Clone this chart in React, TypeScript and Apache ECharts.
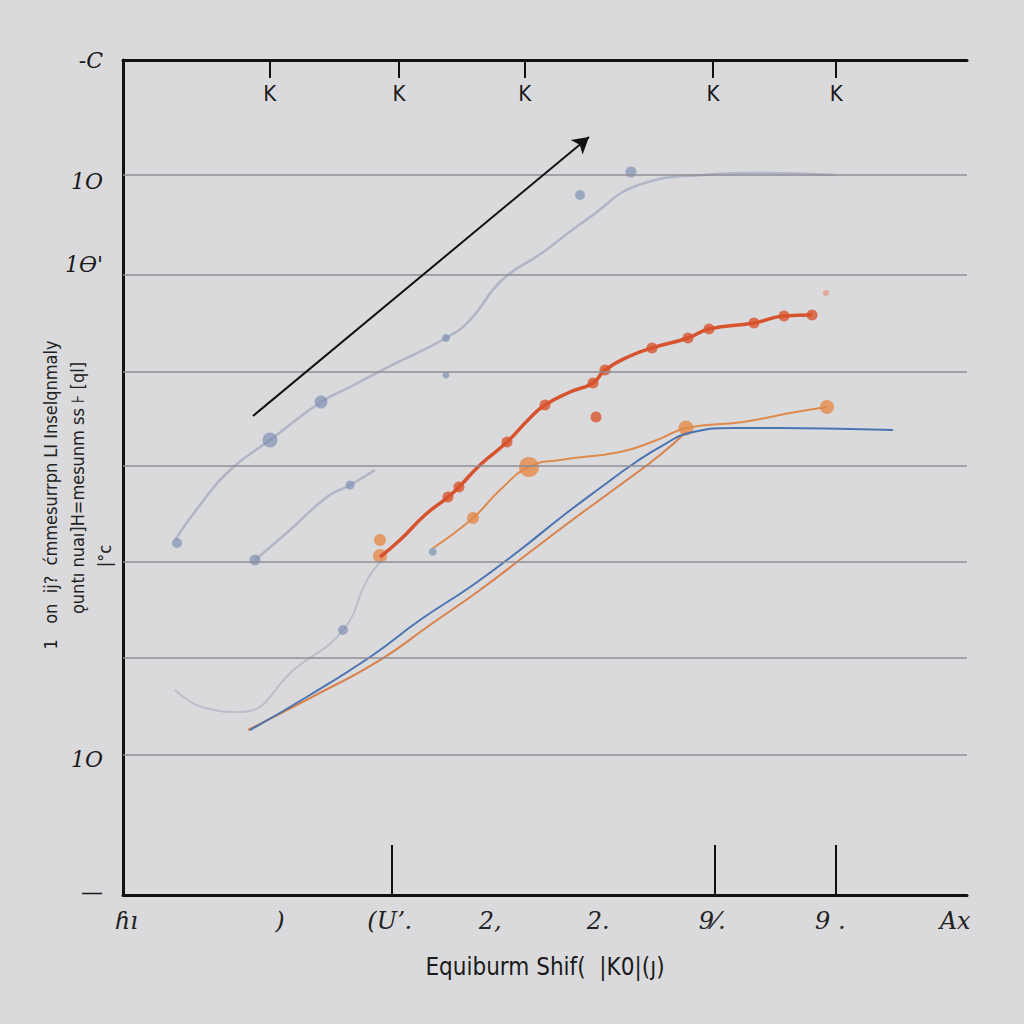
import React, { useEffect, useRef } from "react";
import * as echarts from "echarts";

// Horizontal reference lines (y values)
const gridLinesY = [86.23, 74.25, 62.63, 51.38, 39.88, 28.38, 16.77];

// Axis tick labels
const yLabelValues = [100, 85.5, 75.5, 16.2, 0.3];
const yLabelTexts = ["-C", "1O", "1Ɵ'", "1O", "—"];
const bottomLabelValues = [0.4, 18.6, 31.6, 43.5, 56.3, 69.8, 83.8, 98.6];
const bottomLabelTexts = ["ɦı", ")", "(Uʼ.", "2,", "2.", "9⁄.", "9 .", "Ax"];
const bottomTickValues = [31.9, 70.1, 84.5];
const topTickValues = [17.4, 32.7, 47.6, 69.9, 84.5];
const topLabelTexts = ["K", "K", "K", "K", "K"];

// Series data [x, y]
const redMain = [
  [30.45, 40.48], [32.82, 42.51], [35.78, 45.51], [38.51, 47.66], [39.81, 48.86],
  [42.3, 51.5], [45.5, 54.25], [48.22, 57.13], [50.0, 58.68], [52.96, 60.24],
  [55.69, 61.32], [57.11, 62.87], [60.07, 64.55], [62.68, 65.51], [66.94, 66.71],
  [69.43, 67.78], [74.76, 68.5], [78.32, 69.34], [81.64, 69.46],
];
const redMarkers = [
  [38.51, 47.66], [39.81, 48.86], [45.5, 54.25], [50.0, 58.68], [55.69, 61.32],
  [57.11, 62.87], [62.68, 65.51], [66.94, 66.71], [69.43, 67.78], [74.76, 68.5],
  [78.32, 69.34], [81.64, 69.46], [56.04, 57.25],
];
const redFaint = [[83.29, 72.1]];

const orangeMain = [
  [36.73, 41.56], [41.47, 45.15], [44.67, 48.5], [48.1, 51.26], [51.78, 52.1],
  [58.89, 53.05], [63.27, 54.49], [66.71, 55.93], [73.46, 56.65], [79.03, 57.72],
  [83.41, 58.44],
];
const orangeMarkers = [
  [41.47, 45.15], [48.1, 51.26], [66.71, 55.93], [83.41, 58.44], [30.45, 42.51], [30.45, 40.6],
];
const orangeMarkerSizes = [12, 20, 15, 14, 12, 14];

const blueLine = [
  [15.05, 19.76], [22.16, 23.95], [29.62, 28.74], [35.19, 32.93], [41.47, 37.13],
  [47.04, 41.32], [52.25, 45.51], [56.52, 48.74], [60.78, 51.86], [64.22, 54.01],
  [67.06, 55.33], [72.63, 55.93], [77.84, 55.93], [86.14, 55.81], [91.23, 55.69],
];
const orangeThin = [
  [14.81, 19.76], [22.16, 23.59], [30.45, 28.14], [36.37, 32.34], [42.3, 36.53],
  [48.22, 41.08], [53.55, 45.15], [58.89, 49.1], [63.63, 52.69], [66.71, 55.45],
];

const ghostA = [
  [6.16, 42.51], [9.12, 46.71], [12.68, 50.9], [17.42, 54.49], [23.46, 59.04],
  [26.9, 60.84], [31.4, 63.23], [38.27, 66.71], [41.11, 68.86], [44.91, 73.65],
  [49.64, 76.89], [54.86, 80.84], [61.82, 85.27], [68.72, 86.23], [75.0, 86.47],
  [84.48, 86.23],
];
const ghostB = [[15.64, 40.12], [19.79, 43.71], [24.17, 47.66], [26.9, 49.1], [29.86, 50.9]];
const ghostC = [
  [6.16, 24.55], [9.72, 22.4], [13.86, 21.92], [20.62, 27.31], [26.07, 31.74],
  [28.91, 37.72], [30.69, 40.12],
];
const ghostMarkers = [
  [17.42, 54.49], [23.46, 59.04], [38.27, 66.71], [60.19, 86.59], [54.15, 83.83],
  [6.4, 42.16], [38.27, 62.28], [15.64, 40.12], [26.9, 49.1], [26.07, 31.74], [36.7, 41.1],
];
const ghostMarkerSizes = [15, 13, 8, 11, 10, 10, 7, 11, 9, 10, 8];

const arrowFrom = [15.4, 57.37];
const arrowTo = [55.21, 90.78];

const xTitle = "Equiburm Shif(  |K0|(ȷ)";
const yTitleLines = [
  "1   on  ij?  ćmmesurrpn LI Inselqnmaly",
  "ǫuntı nuaı]H=mesunm ss ⊦ [ql]",
  "|°c",
];

export default function App() {
  const ref = useRef<HTMLDivElement>(null);
  useEffect(() => {
    if (!ref.current) return;
    const chart = echarts.init(ref.current, undefined, { renderer: "svg" });
    const fontFamily = "'Liberation Sans Narrow', 'DejaVu Sans Condensed', 'Liberation Sans', sans-serif";
    const yTitlePos = [
      [50, 495],
      [77, 488],
      [104, 556],
    ];
    const option: any = {
      animation: false,
      backgroundColor: "#dadadd",
      textStyle: { fontFamily },
      grid: { left: 123, right: 57, top: 60, bottom: 129, containLabel: false, outerBoundsMode: "none" },
      graphic: yTitleLines.map((t, i) => ({
        type: "text",
        x: yTitlePos[i][0],
        y: yTitlePos[i][1],
        rotation: Math.PI / 2,
        style: {
          text: t,
          fontSize: 18,
          fontFamily,
          fill: "#222",
          align: "center",
          verticalAlign: "middle",
        },
      })),
      xAxis: [
        {
          type: "value",
          min: 0,
          max: 100,
          position: "bottom",
          axisLine: { show: true, lineStyle: { color: "#111", width: 3 } },
          axisTick: {
            show: true,
            inside: true,
            length: 50,
            customValues: bottomTickValues,
            lineStyle: { color: "#111", width: 2 },
          },
          axisLabel: {
            show: true,
            customValues: bottomLabelValues,
            margin: 14,
            fontSize: 24,
            color: "#222",
            fontFamily: "'DejaVu Serif', serif",
            fontStyle: "italic",
            formatter: (v: number) => {
              const i = bottomLabelValues.findIndex((b) => Math.abs(b - v) < 0.01);
              return i >= 0 ? bottomLabelTexts[i] : "";
            },
          },
          splitLine: { show: false },
          name: xTitle,
          nameLocation: "middle",
          nameGap: 60,
          nameTextStyle: { fontSize: 24, color: "#1a1a1a", fontFamily },
        },
        {
          type: "value",
          min: 0,
          max: 100,
          position: "top",
          axisLine: { show: true, lineStyle: { color: "#111", width: 3 } },
          axisTick: {
            show: true,
            inside: true,
            length: 18,
            customValues: topTickValues,
            lineStyle: { color: "#111", width: 2 },
          },
          axisLabel: {
            show: true,
            inside: true,
            customValues: topTickValues,
            margin: 22,
            fontSize: 22,
            color: "#1a1a1a",
            formatter: (v: number) => {
              const i = topTickValues.findIndex((b) => Math.abs(b - v) < 0.01);
              return i >= 0 ? topLabelTexts[i] : "";
            },
          },
          splitLine: { show: false },
        },
      ],
      yAxis: {
        type: "value",
        min: 0,
        max: 100,
        axisLine: { show: true, lineStyle: { color: "#111", width: 3 } },
        axisTick: { show: false },
        axisLabel: {
          show: true,
          customValues: yLabelValues,
          margin: 20,
          fontSize: 22,
          color: "#1a1a1a",
          fontFamily: "'DejaVu Serif', serif",
          fontStyle: "italic",
          formatter: (v: number) => {
            const i = yLabelValues.findIndex((b) => Math.abs(b - v) < 0.01);
            return i >= 0 ? yLabelTexts[i] : "";
          },
        },
        splitLine: { show: false },
      },
      series: [
        {
          name: "grid",
          type: "line",
          data: [],
          silent: true,
          markLine: {
            silent: true,
            symbol: ["none", "none"],
            label: { show: false },
            lineStyle: { color: "#8e8e95", width: 1.5, type: "solid" },
            data: gridLinesY.map((y) => ({ yAxis: y })),
          },
        },
        {
          name: "ghostA",
          type: "line",
          smooth: true,
          symbol: "none",
          data: ghostA,
          lineStyle: { color: "#7f89aa", width: 2.5, opacity: 0.45 },
        },
        {
          name: "ghostB",
          type: "line",
          smooth: true,
          symbol: "none",
          data: ghostB,
          lineStyle: { color: "#7f89aa", width: 2.5, opacity: 0.45 },
        },
        {
          name: "ghostC",
          type: "line",
          smooth: true,
          symbol: "none",
          data: ghostC,
          lineStyle: { color: "#7f89aa", width: 2, opacity: 0.35 },
        },
        {
          name: "ghostMarkers",
          type: "scatter",
          data: ghostMarkers.map((p, i) => ({ value: p, symbolSize: ghostMarkerSizes[i] })),
          itemStyle: { color: "#6f86ad", opacity: 0.6 },
        },
        {
          name: "arrow",
          type: "line",
          data: [],
          markLine: {
            silent: true,
            symbol: ["none", "arrow"],
            symbolSize: [14, 16],
            label: { show: false },
            lineStyle: { color: "#111", width: 2, type: "solid" },
            data: [[{ coord: arrowFrom }, { coord: arrowTo }]],
          },
        },
        {
          name: "orangeThin",
          type: "line",
          smooth: true,
          symbol: "none",
          data: orangeThin,
          lineStyle: { color: "#d9814a", width: 2 },
        },
        {
          name: "blue",
          type: "line",
          smooth: true,
          symbol: "none",
          data: blueLine,
          lineStyle: { color: "#4a74b0", width: 2 },
        },
        {
          name: "orange",
          type: "line",
          smooth: true,
          symbol: "none",
          data: orangeMain,
          lineStyle: { color: "#dd8a4c", width: 2 },
        },
        {
          name: "orangeMarkers",
          type: "scatter",
          data: orangeMarkers.map((p, i) => ({ value: p, symbolSize: orangeMarkerSizes[i] })),
          itemStyle: { color: "#e58a48" },
        },
        {
          name: "red",
          type: "line",
          smooth: true,
          symbol: "none",
          data: redMain,
          lineStyle: { color: "#d6532e", width: 3.5 },
        },
        {
          name: "redMarkers",
          type: "scatter",
          symbolSize: 11,
          data: redMarkers,
          itemStyle: { color: "#d9552f" },
        },
        {
          name: "redFaint",
          type: "scatter",
          symbolSize: 6,
          data: redFaint,
          itemStyle: { color: "#e38a6a", opacity: 0.6 },
        },
      ],
    };
    chart.setOption(option);
    return () => chart.dispose();
  }, []);
  return (
    <div
      ref={ref}
      style={{ position: "fixed", left: 0, top: 0, width: 1024, height: 1024 }}
    />
  );
}
